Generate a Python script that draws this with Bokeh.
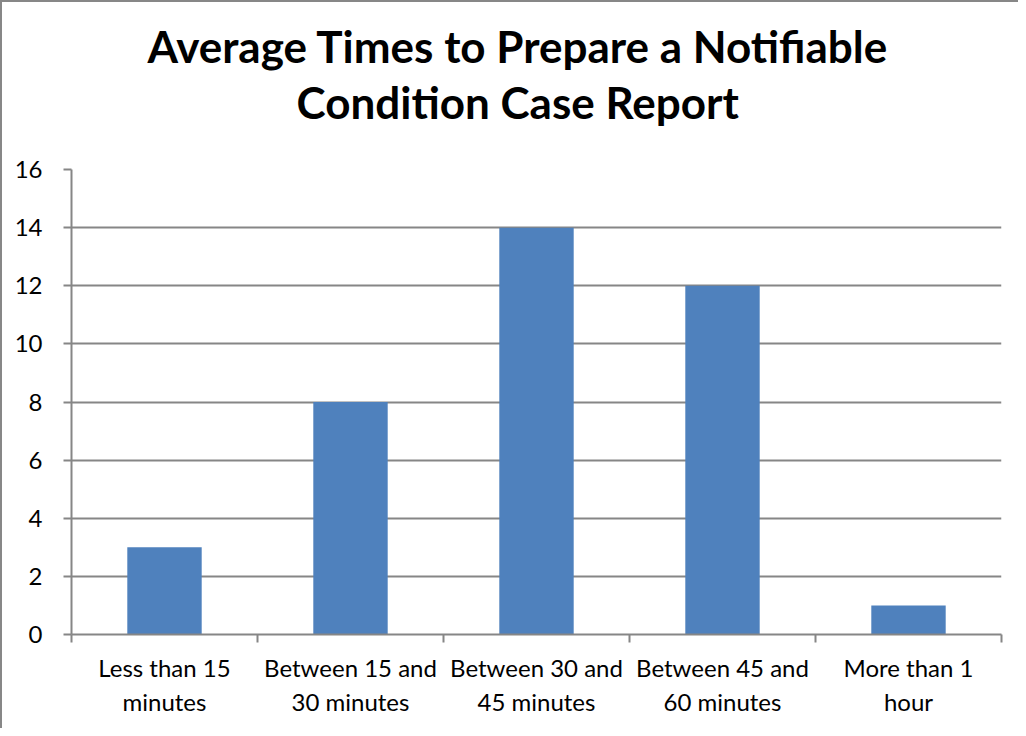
from bokeh.plotting import figure
from bokeh.models import FixedTicker, Title, Range1d
from bokeh.embed import file_html
from bokeh.resources import INLINE

categories = ["Less than 15\nminutes", "Between 15 and\n30 minutes", "Between 30 and\n45 minutes",
              "Between 45 and\n60 minutes", "More than 1\nhour"]
values = [3, 8, 14, 12, 1]
y_ticks = [0, 2, 4, 6, 8, 10, 12, 14, 16]
title_lines = ["Average Times to Prepare a Notifiable", "Condition Case Report"]

FONT = "Lato"
GRAY = "#868686"

x_centers = [i + 0.5 for i in range(len(categories))]
x_bounds = [i for i in range(len(categories) + 1)]

p = figure(width=1018, height=728, output_backend="svg", toolbar_location=None,
           x_range=Range1d(0, len(categories)), y_range=Range1d(0, 16),
           min_border_left=69, min_border_right=19, min_border_top=167, min_border_bottom=96)
p.title = None
p.styles = {"border-top": "2px solid #878787", "border-left": "2px solid #878787"}

# title lines: (offset from frame left, standoff); added nearest-first
title_layout = [(225, 84), (76, -80)]
for line, (off, so) in zip(reversed(title_lines), title_layout):
    t = Title(text=line, align="left", text_font=FONT, text_font_style="bold",
              text_font_size="44px", text_color="black", standoff=so, offset=off)
    p.add_layout(t, "above")

p.vbar(x=x_centers, top=values, width=0.4, fill_color="#4F81BD", line_color=None)

p.xaxis.ticker = FixedTicker(ticks=x_centers, minor_ticks=x_bounds)
p.xaxis.major_label_overrides = {c: lab for c, lab in zip(x_centers, categories)}
p.xaxis.major_tick_line_color = None
p.xaxis.minor_tick_out = 8
p.xaxis.minor_tick_in = 0
p.xaxis.minor_tick_line_color = GRAY
p.xaxis.minor_tick_line_width = 2

p.yaxis.ticker = FixedTicker(ticks=y_ticks)
p.yaxis.major_tick_out = 8
p.yaxis.major_tick_in = 0
p.yaxis.minor_tick_line_color = None
p.yaxis.major_tick_line_color = GRAY
p.yaxis.major_tick_line_width = 2

for ax in (p.xaxis, p.yaxis):
    ax.axis_line_color = GRAY
    ax.axis_line_width = 2
    ax.major_label_text_font = FONT
    ax.major_label_text_font_size = "24px"
    ax.major_label_text_color = "black"

p.xaxis.major_label_standoff = 10
p.yaxis.major_label_standoff = 21

p.xgrid.visible = False
p.ygrid.ticker = FixedTicker(ticks=y_ticks)
p.ygrid.grid_line_color = GRAY
p.ygrid.grid_line_width = 2
p.outline_line_color = None

open("out.html", "w").write(file_html(p, INLINE))
